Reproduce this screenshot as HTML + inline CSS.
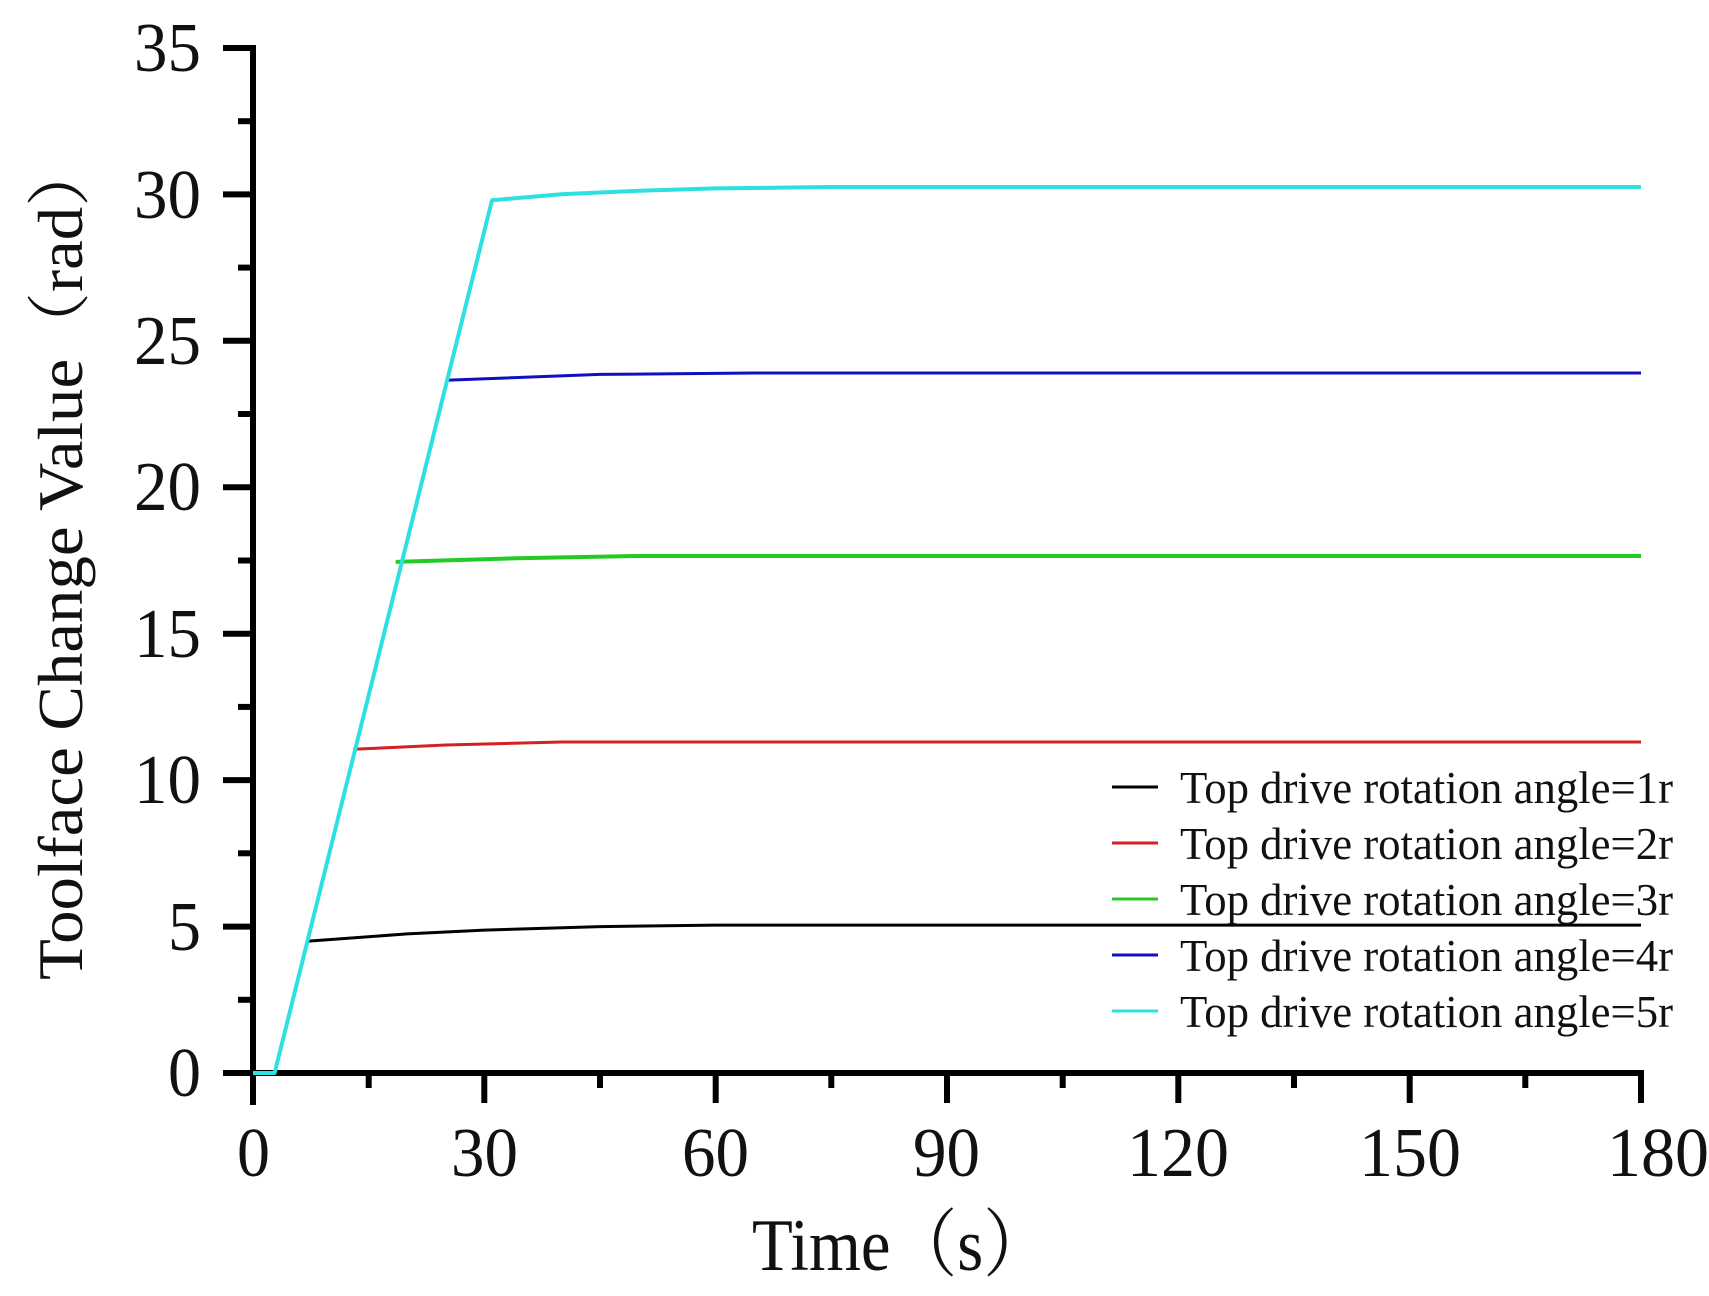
<!DOCTYPE html>
<html><head><meta charset="utf-8"><style>
html,body{margin:0;padding:0;background:#fff}
svg{display:block}
text{font-family:"Liberation Serif","Noto Serif CJK SC",serif;fill:#111}
</style></head><body>
<svg width="1709" height="1296" viewBox="0 0 1709 1296" xmlns="http://www.w3.org/2000/svg">
<g stroke="#000" stroke-width="6" fill="none">
<line x1="253" y1="45" x2="253" y2="1105"/>
<line x1="223" y1="1073" x2="1644" y2="1073"/>
<line x1="223" y1="48" x2="253" y2="48"/>
<line x1="223" y1="194.4" x2="253" y2="194.4"/>
<line x1="223" y1="340.8" x2="253" y2="340.8"/>
<line x1="223" y1="487.3" x2="253" y2="487.3"/>
<line x1="223" y1="633.7" x2="253" y2="633.7"/>
<line x1="223" y1="780.1" x2="253" y2="780.1"/>
<line x1="223" y1="926.6" x2="253" y2="926.6"/>
<line x1="238" y1="121.2" x2="253" y2="121.2"/>
<line x1="238" y1="267.6" x2="253" y2="267.6"/>
<line x1="238" y1="414" x2="253" y2="414"/>
<line x1="238" y1="560.5" x2="253" y2="560.5"/>
<line x1="238" y1="706.9" x2="253" y2="706.9"/>
<line x1="238" y1="853.3" x2="253" y2="853.3"/>
<line x1="238" y1="999.8" x2="253" y2="999.8"/>
<line x1="484.3" y1="1073" x2="484.3" y2="1103"/>
<line x1="715.7" y1="1073" x2="715.7" y2="1103"/>
<line x1="947" y1="1073" x2="947" y2="1103"/>
<line x1="1178.3" y1="1073" x2="1178.3" y2="1103"/>
<line x1="1409.7" y1="1073" x2="1409.7" y2="1103"/>
<line x1="1641" y1="1073" x2="1641" y2="1103"/>
<line x1="368.7" y1="1073" x2="368.7" y2="1088"/>
<line x1="600" y1="1073" x2="600" y2="1088"/>
<line x1="831.3" y1="1073" x2="831.3" y2="1088"/>
<line x1="1062.7" y1="1073" x2="1062.7" y2="1088"/>
<line x1="1294" y1="1073" x2="1294" y2="1088"/>
<line x1="1525.3" y1="1073" x2="1525.3" y2="1088"/>
</g>
<g font-size="70">
<text x="168" y="1096" textLength="33" lengthAdjust="spacingAndGlyphs">0</text>
<text x="168" y="950" textLength="33" lengthAdjust="spacingAndGlyphs">5</text>
<text x="134" y="803" textLength="67" lengthAdjust="spacingAndGlyphs">10</text>
<text x="134" y="657" textLength="67" lengthAdjust="spacingAndGlyphs">15</text>
<text x="134" y="510" textLength="67" lengthAdjust="spacingAndGlyphs">20</text>
<text x="134" y="364" textLength="67" lengthAdjust="spacingAndGlyphs">25</text>
<text x="134" y="218" textLength="67" lengthAdjust="spacingAndGlyphs">30</text>
<text x="134" y="71" textLength="67" lengthAdjust="spacingAndGlyphs">35</text>
</g>
<g font-size="70">
<text x="237" y="1176" textLength="33" lengthAdjust="spacingAndGlyphs">0</text>
<text x="451" y="1176" textLength="67" lengthAdjust="spacingAndGlyphs">30</text>
<text x="682" y="1176" textLength="67" lengthAdjust="spacingAndGlyphs">60</text>
<text x="913" y="1176" textLength="67" lengthAdjust="spacingAndGlyphs">90</text>
<text x="1127" y="1176" textLength="102" lengthAdjust="spacingAndGlyphs">120</text>
<text x="1359" y="1176" textLength="102" lengthAdjust="spacingAndGlyphs">150</text>
<text x="1607" y="1176" textLength="102" lengthAdjust="spacingAndGlyphs">180</text>
</g>
<text x="752" y="1270" font-size="74" textLength="298" lengthAdjust="spacingAndGlyphs">Time（s）</text>
<text transform="translate(82,560) rotate(-90)" font-size="64" text-anchor="middle" textLength="840" lengthAdjust="spacingAndGlyphs">Toolface Change Value（rad）</text>
<g fill="none" stroke-width="3" stroke-linejoin="round">
<polyline stroke="#000" points="307,941.2 407.2,933.9 484.3,930.1 600,926.6 715.7,925.1 1641,925.1"/>
<polyline stroke="#d42020" points="353.2,749.3 445.8,745 561.4,742 1641,742"/>
<polyline stroke="#22cc22" stroke-width="4" points="395.7,561.9 522.9,558.1 638.6,556 1641,556"/>
<polyline stroke="#1010c0" points="445.8,380.3 600,374.4 754.2,373 1641,373"/>
<polyline stroke="#2ee0e0" stroke-width="4" points="253,1073 274.6,1073 492,200.2 561.4,194.3 638.6,190.8 715.7,188.4 831.3,187 1641,187"/>
</g>
<g stroke-width="3">
<line x1="1112" y1="787" x2="1158" y2="787" stroke="#000"/>
<line x1="1112" y1="843" x2="1158" y2="843" stroke="#d42020"/>
<line x1="1112" y1="899" x2="1158" y2="899" stroke="#22cc22"/>
<line x1="1112" y1="955" x2="1158" y2="955" stroke="#1010c0"/>
<line x1="1112" y1="1011" x2="1158" y2="1011" stroke="#2ee0e0"/>
</g>
<g font-size="46">
<text x="1180" y="803" textLength="493" lengthAdjust="spacingAndGlyphs">Top drive rotation angle=1r</text>
<text x="1180" y="859" textLength="493" lengthAdjust="spacingAndGlyphs">Top drive rotation angle=2r</text>
<text x="1180" y="915" textLength="493" lengthAdjust="spacingAndGlyphs">Top drive rotation angle=3r</text>
<text x="1180" y="971" textLength="493" lengthAdjust="spacingAndGlyphs">Top drive rotation angle=4r</text>
<text x="1180" y="1027" textLength="493" lengthAdjust="spacingAndGlyphs">Top drive rotation angle=5r</text>
</g>
</svg>
</body></html>
